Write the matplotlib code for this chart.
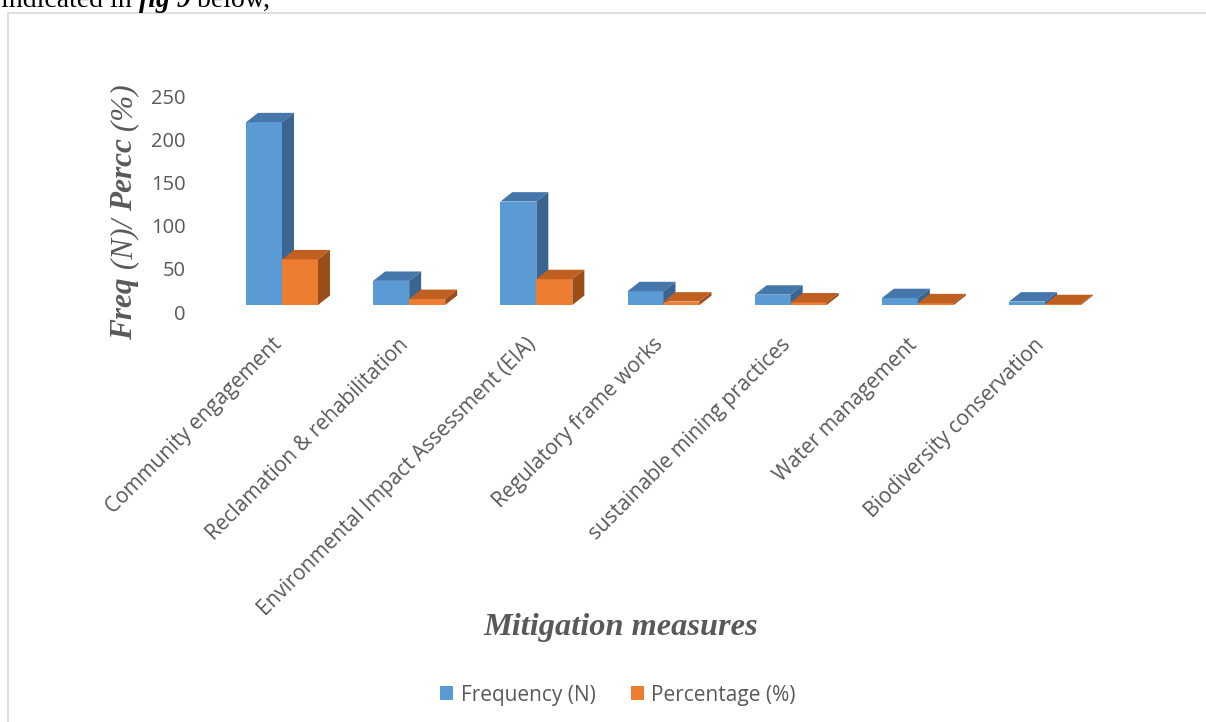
import matplotlib
matplotlib.use("Agg")
import matplotlib.pyplot as plt
from matplotlib.patches import Polygon, Patch
from matplotlib.lines import Line2D
from matplotlib.transforms import ScaledTranslation
import numpy as np

categories = ["Community engagement", "Reclamation & rehabilitation",
              "Environmental Impact Assessment (EIA)", "Regulatory frame works",
              "sustainable mining practices", "Water management",
              "Biodiversity conservation"]
frequency = [212, 28, 120, 16, 12, 8, 4]
percentage = [53, 7, 30, 4, 3, 2, 1]
yticks = [0, 50, 100, 150, 200, 250]
series_names = ["Frequency (N)", "Percentage (%)"]

W, H = 1206, 722
fig = plt.figure(figsize=(W / 100, H / 100), dpi=100)
fig.patch.set_facecolor("white")

def fx(px):
    return px / W

def fy(py):
    return 1 - py / H

# axes placement (pixel based)
ax_left, ax_right, ax_top, ax_bottom = 195, 1100, 80, 305
ax = fig.add_axes([fx(ax_left), fy(ax_bottom), fx(ax_right - ax_left), (ax_bottom - ax_top) / H])
px_per_x = 127.17
px_per_y = 0.862
x0 = -(282 - ax_left) / px_per_x
ax.set_xlim(x0, x0 + (ax_right - ax_left) / px_per_x)
ax.set_ylim(0, (ax_bottom - ax_top) / px_per_y)
for s in ax.spines.values():
    s.set_visible(False)
ax.patch.set_alpha(0)

bw = 36 / px_per_x
ddx = 12 / px_per_x
ddy = 9.4 / px_per_y

cols = {
    0: ("#5B9BD5", "#4677AC", "#3A6591"),
    1: ("#ED7D31", "#BF5F20", "#9C4E1A"),
}

def bar3d(xl, h, c):
    front, top, side = c
    xr = xl + bw
    ax.add_patch(Polygon([(xl, 0), (xr, 0), (xr, h), (xl, h)], closed=True,
                         facecolor=front, edgecolor="none", clip_on=False, zorder=3))
    ax.add_patch(Polygon([(xl, h), (xr, h), (xr + ddx, h + ddy), (xl + ddx, h + ddy)], closed=True,
                         facecolor=top, edgecolor="none", clip_on=False, zorder=3))
    ax.add_patch(Polygon([(xr, 0), (xr + ddx, ddy), (xr + ddx, h + ddy), (xr, h)], closed=True,
                         facecolor=side, edgecolor="none", clip_on=False, zorder=3))

for i in range(len(categories)):
    bar3d(i - bw, frequency[i], cols[0])
    bar3d(i, percentage[i], cols[1])

tick_font = "Open Sans"
gray = "#595959"
ax.set_yticks(yticks)
ax.set_yticklabels([str(v) for v in yticks], fontsize=14.5, color=gray, family=tick_font)
ax.tick_params(axis="y", length=0, pad=6.5)
off = ScaledTranslation(0, -7 / 100, fig.dpi_scale_trans)
for lab in ax.get_yticklabels():
    lab.set_transform(lab.get_transform() + off)

ax.set_xticks(range(len(categories)))
ax.set_xticklabels(categories, rotation=45, ha="right", va="top", rotation_mode="anchor",
                   fontsize=15, color=gray, family=tick_font)
ax.tick_params(axis="x", length=0, pad=21)
offx = ScaledTranslation(-11 / 100, 0, fig.dpi_scale_trans)
for lab in ax.get_xticklabels():
    lab.set_transform(lab.get_transform() + offx)

renderer = fig.canvas.get_renderer()

# y axis title in pieces (rotated, bottom to top)
pieces = [("Freq", "bold"), (" (N)/ ", "normal"), ("Percc", "bold"), (" (%)", "normal")]
tmp = []
total = 0
for txt, wt in pieces:
    t = fig.text(0, 0, txt, rotation=90, fontsize=22.5, fontweight=wt, fontstyle="italic",
                 family="Liberation Serif", color=gray, ha="center", va="bottom")
    h = t.get_window_extent(renderer=renderer).height
    tmp.append((t, h))
    total += h
ypos = 212 + total / 2
for t, h in tmp:
    t.set_position((fx(125), fy(ypos)))
    ypos -= h

fig.text(fx(621), fy(627), "Mitigation measures", ha="center", va="center",
         fontsize=23.3, fontweight="bold", fontstyle="italic", family="Liberation Serif", color=gray)

# legend
handles = [Patch(facecolor=cols[0][0]), Patch(facecolor=cols[1][0])]
leg = fig.legend(handles, series_names, loc="center", bbox_to_anchor=(fx(618), fy(695)),
                 ncol=2, frameon=False, prop={"family": tick_font, "size": 15},
                 handlelength=0.62, handleheight=0.62, handletextpad=0.35, columnspacing=1.7)
for t in leg.get_texts():
    t.set_color(gray)

# frame lines
fig.add_artist(Line2D([fx(8), 1], [fy(13), fy(13)], color="#D9D9D9", lw=1.2))
fig.add_artist(Line2D([fx(8), fx(8)], [fy(13), 0], color="#D9D9D9", lw=1.2))

# cut-off caption text at top
xpos = 1
for txt, kw in [("indicated in ", dict()),
                ("fig 9", dict(fontweight="bold", fontstyle="italic")),
                (" below,", dict())]:
    t = fig.text(fx(xpos), fy(6.7), txt, ha="left", va="baseline", fontsize=20,
                 family="Liberation Serif", color="black", **kw)
    bb = t.get_window_extent(renderer=renderer)
    xpos += bb.width

fig.savefig("out.png", dpi=100, facecolor="white")
